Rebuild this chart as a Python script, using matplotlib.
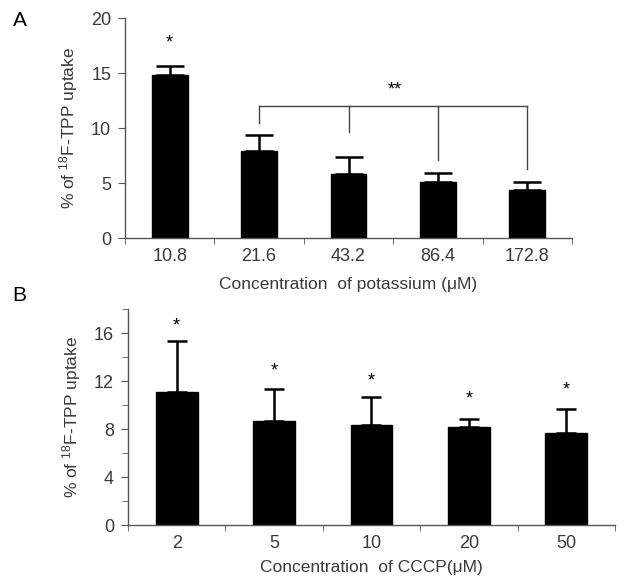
import numpy as np
import matplotlib
matplotlib.use('Agg')
import matplotlib.pyplot as plt

plt.rcParams['font.family'] = ['Liberation Sans', 'DejaVu Sans']
plt.rcParams['mathtext.fontset'] = 'custom'
plt.rcParams['mathtext.rm'] = 'Liberation Sans'
plt.rcParams['mathtext.it'] = 'Liberation Sans'

# panel A data: potassium concentrations
k_labels = ['10.8', '21.6', '43.2', '86.4', '172.8']
k_mean = [14.8, 7.9, 5.8, 5.1, 4.4]
k_sd = [0.8, 1.5, 1.6, 0.8, 0.65]

# panel B data: CCCP concentrations
cccp_labels = ['2', '5', '10', '20', '50']
cccp_mean = [11.1, 8.7, 8.35, 8.2, 7.7]
cccp_sd = [4.25, 2.65, 2.3, 0.65, 2.0]
cccp_star_y = [16.6, 12.85, 12.05, 10.5, 11.3]

txt_col = '#3a3a3a'
ax_col = '#555555'
ylab = '% of $^{\\mathrm{18}}$F-TPP uptake'


def style_axes(ax, n):
    for s in ['top', 'right']:
        ax.spines[s].set_visible(False)
    for s in ['left', 'bottom']:
        ax.spines[s].set_color(ax_col)
        ax.spines[s].set_linewidth(1.0)
    ax.set_xlim(-0.5, n - 0.5)
    ax.set_xticks(np.arange(n))
    ax.set_xticks(np.arange(n + 1) - 0.5, minor=True)
    ax.tick_params(axis='x', which='major', length=0, pad=7, labelsize=13, labelcolor=txt_col)
    ax.tick_params(axis='x', which='minor', length=4, direction='out', color=ax_col)
    ax.tick_params(axis='y', which='both', direction='out', color=ax_col, labelsize=13,
                   labelcolor=txt_col, pad=5)
    ax.tick_params(axis='y', which='major', length=5)
    ax.tick_params(axis='y', which='minor', length=4)


fig = plt.figure(figsize=(6.27, 5.88), dpi=100)

# ---- panel A
axA = fig.add_axes([0.1994, 0.5952, 0.7129, 0.3741])
x = np.arange(len(k_labels))
axA.bar(x, k_mean, width=0.4, color='black', edgecolor='black', zorder=2)
axA.errorbar(x, k_mean, yerr=[np.zeros(len(k_sd)), k_sd], fmt='none', ecolor='black',
             elinewidth=1.8, capsize=10, capthick=1.8, zorder=1)
axA.set_ylim(0, 20)
axA.set_yticks([0, 5, 10, 15, 20])
style_axes(axA, len(k_labels))
axA.set_xticklabels(k_labels)
axA.set_xlabel('Concentration  of potassium (\u03bcM)', fontsize=12.5, color=txt_col, labelpad=9)
axA.set_ylabel(ylab, fontsize=12.5, color=txt_col, labelpad=8)
axA.text(0, 17.7, '*', ha='center', va='center', fontsize=13, color='black')

# bracket over bars 2-5
bracket_y = 12.0
drops = [10.5, 9.6, 7.1, 6.3]
axA.plot([1, 4], [bracket_y, bracket_y], color='#444444', lw=1.0)
for xi, d in zip(range(1, 5), drops):
    axA.plot([xi, xi], [bracket_y, d], color='#444444', lw=1.0)
axA.text(2.52, 13.5, '**', ha='center', va='center', fontsize=13, color='black')

fig.text(0.032, 0.965, 'A', fontsize=15, color='black', ha='center', va='center')

# ---- panel B
axB = fig.add_axes([0.2041, 0.1066, 0.7767, 0.3679])
x = np.arange(len(cccp_labels))
axB.bar(x, cccp_mean, width=0.43, color='black', edgecolor='black', zorder=2)
axB.errorbar(x, cccp_mean, yerr=[np.zeros(len(cccp_sd)), cccp_sd], fmt='none', ecolor='black',
             elinewidth=1.8, capsize=7, capthick=1.8, zorder=1)
axB.set_ylim(0, 18)
axB.set_yticks([0, 4, 8, 12, 16])
axB.set_yticks([2, 6, 10, 14, 18], minor=True)
style_axes(axB, len(cccp_labels))
axB.set_xticklabels(cccp_labels)
axB.set_xlabel('Concentration  of CCCP(\u03bcM)', fontsize=12.5, color=txt_col, labelpad=6)
axB.set_ylabel(ylab, fontsize=12.5, color=txt_col, labelpad=8)
for xi, sy in zip(x, cccp_star_y):
    axB.text(xi, sy, '*', ha='center', va='center', fontsize=13, color='black')

fig.text(0.030, 0.497, 'B', fontsize=15, color='black', ha='center', va='center')

fig.savefig('out.png', dpi=100)
